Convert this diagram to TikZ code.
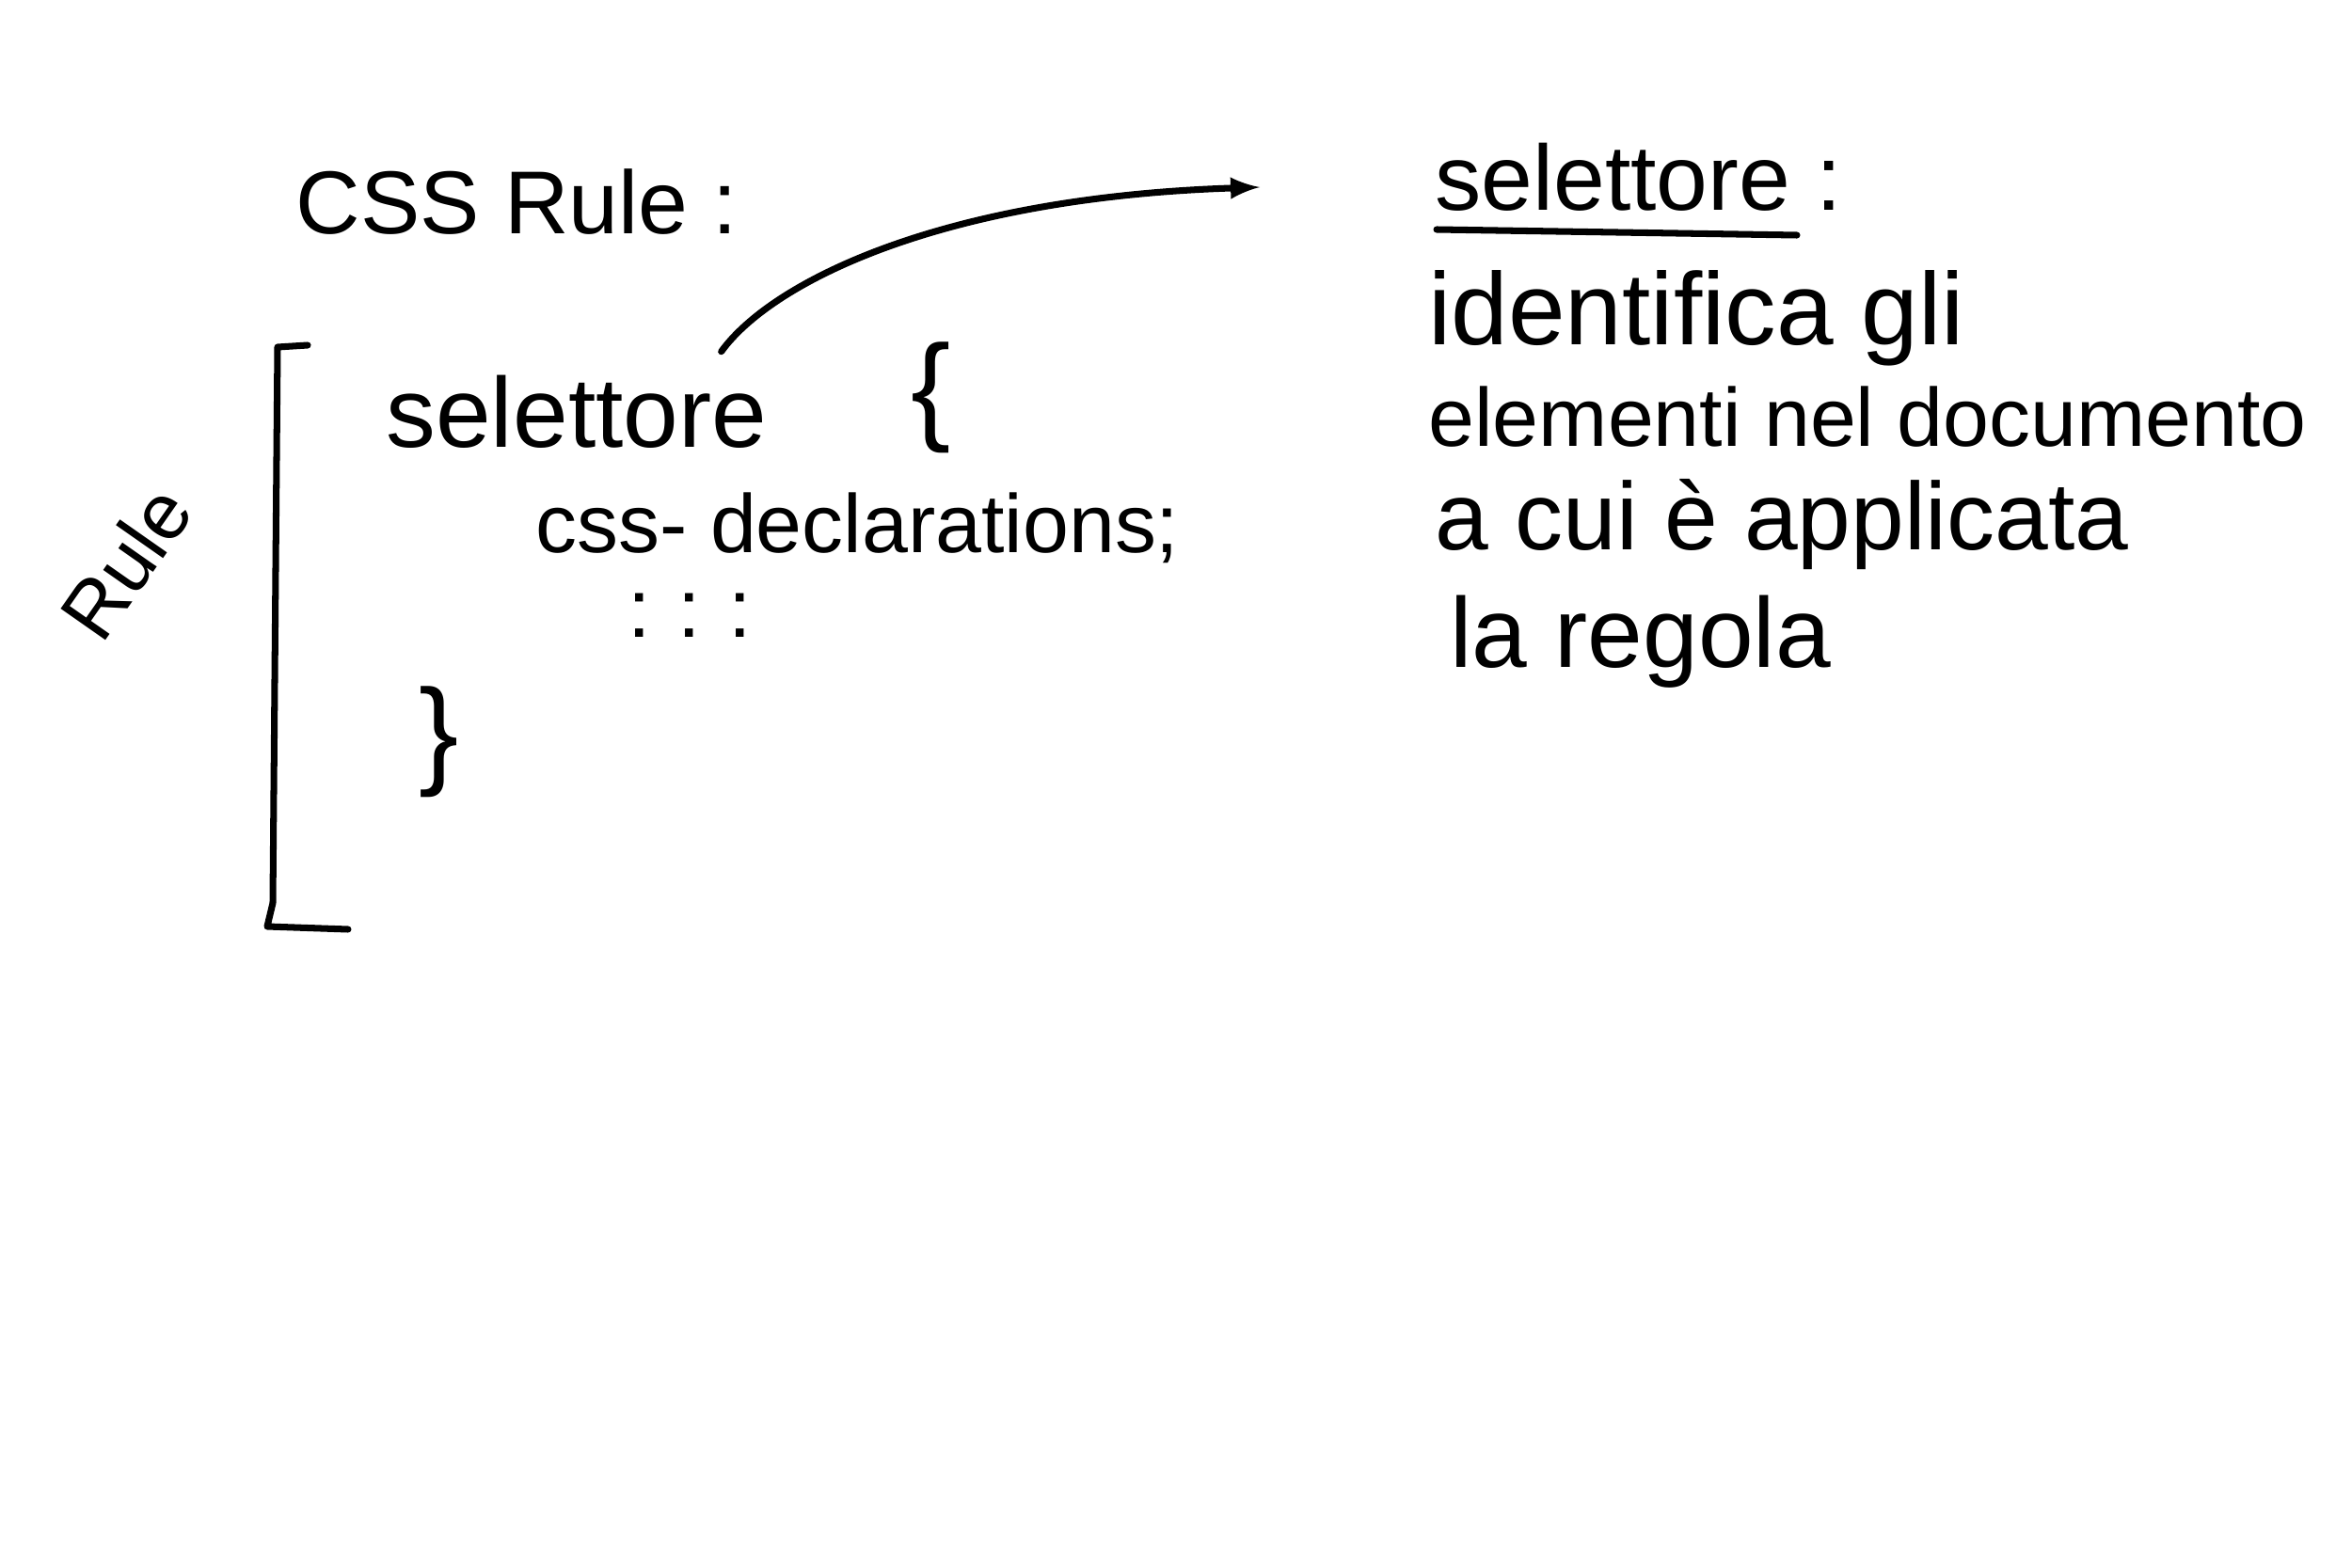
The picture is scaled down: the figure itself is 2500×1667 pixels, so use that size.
\documentclass[tikz,border=0pt]{standalone}
\usepackage{fontspec}
\setmainfont{Liberation Sans}
\usetikzlibrary{positioning,arrows}
\tikzset {
    style A/.style={
        font=\fontsize{28}{32}\selectfont,
        anchor=west,
        inner sep=0pt,
    },
    style B/.style={
        font=\fontsize{30}{34}\selectfont,
        anchor=west,
        inner sep=0pt,
    },
    style C/.style={
        font=\fontsize{25}{28}\selectfont,
        anchor=west,
        inner sep=0pt,
    },
    style D/.style={
        font=\fontsize{36}{40}\selectfont,
        inner sep=0pt,
    },
}

\begin{document}
\begin{tikzpicture}
[x=0.01cm, y=-0.01cm, line width=2pt, line cap=round, line join=round]
\useasboundingbox (0,0) rectangle (2500,1667);

% left side: the rule
\node[style A, font=\fontsize{27}{32}\selectfont] at (311,215) (cssRule) {CSS Rule :};
\node[style A, font=\fontsize{24}{28}\selectfont, anchor=center, rotate=55] at (134,598) (ruleLabel) {Rule};
\node[style B] at (407,438) (sel) {selettore};
\node[style D] at (990,423) (openBrace) {\{};
\node[style C] at (566,561) (decl) {css- declarations;};
\node[style C, anchor=center] at (733,654) (dots) {:\,\,:\,\,:};
\node[style D] at (467,789) (closeBrace) {\}};

% bracket round the rule
\draw (327,367) -- (295,369) -- (290,960) -- (284,985) -- (370,988);

% right side: what the selector does
\node[style A] at (1522,188) (selHead) {selettore :};
\draw (1527,244) -- (1910,250);
\node[style A, font=\fontsize{31}{34}\selectfont] at (1515,338) (idLine) {identifica gli};
\node[style A, font=\fontsize{25}{30}\selectfont] at (1515,443) (elLine) {elementi nel documento};
\node[style A, font=\fontsize{29}{32}\selectfont] at (1522,558) (cuiLine) {a cui è applicata};
\node[style A, font=\fontsize{30}{34}\selectfont] at (1538,682) (regLine) {la regola};

\draw[->, >=latex] ([shift={(-52,-22)}]sel.north east) .. controls (820,300) and (1000,210) .. ([shift={(-183,11)}]selHead.west);
\end{tikzpicture}
\end{document}
